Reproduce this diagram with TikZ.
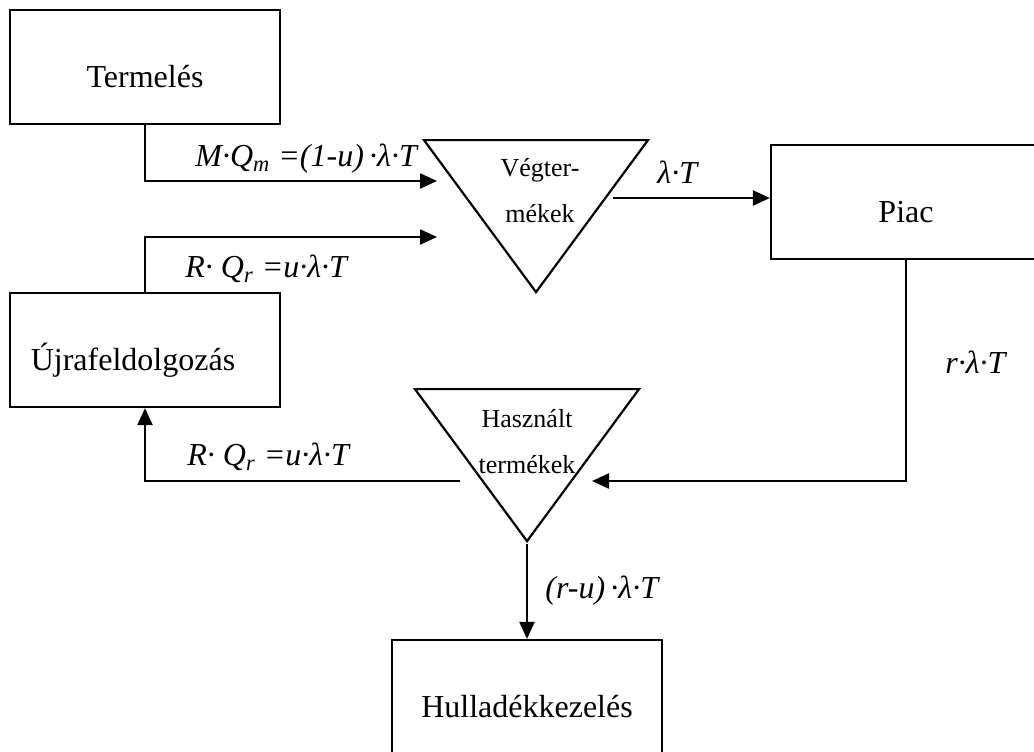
\documentclass[tikz,border=0pt]{standalone}
\usepackage{fontspec}
\setmainfont{Liberation Serif}
\usetikzlibrary{positioning,shapes.geometric,arrows.meta}

\begin{document}
\begin{tikzpicture}[x=0.5pt,y=-0.5pt,
    box/.style={rectangle, draw, line width=1.1pt, minimum width=135pt, minimum height=57pt, text height=20pt, text depth=0pt, inner sep=0pt, font=\fontsize{16}{19}\selectfont},
    funnel/.style={isosceles triangle, shape border rotate=270, isosceles triangle stretches, draw, line width=1.1pt, minimum width=112pt, minimum height=76pt, inner sep=0pt},
    tritext/.style={align=center, font=\fontsize{13}{23}\selectfont, inner sep=0pt, anchor=base},
    flow/.style={line width=1.1pt, -{Triangle[length=8.5pt,width=7.5pt]}},
    rate/.style={font=\fontsize{16}{19}\selectfont\itshape, inner sep=0pt, anchor=base west}
]
    \clip (0,0) rectangle (1034,751);

    % Boxes
    \node [box] (termeles) at (145,67) {Termelés};
    \node [box] (ujra) at (145,350) {Újrafeldolgozás\hspace*{12pt}};
    \node [box] (piac) at (906,202) {Piac};
    \node [box] (hullad) at (527,697) {Hulladékkezelés};

    % Stocks
    \node [funnel, anchor=apex] (vegt) at (536,295) {};
    \node [tritext] (vegtext) at (540,222) {Végter-\\mékek};
    \node [funnel, anchor=apex] (haszn) at (527,544) {};
    \node [tritext] (hasztext) at (527,473) {Használt\\termékek};

    % Free ends
    \coordinate (vin1) at (437,181);
    \coordinate (vin2) at (437,237);
    \coordinate (vout) at (613,198);
    \coordinate (hin) at (592,481);
    \coordinate (hout) at (460,481);

    % Flows
    \draw [flow] (termeles.south) |- (vin1);
    \draw [flow] (ujra.north) |- (vin2);
    \draw [flow] (vout) -- (vout -| piac.west);
    \draw [flow] (piac.south) |- (hin);
    \draw [flow] (hout) -| (ujra.south);
    \draw [flow] (haszn.apex) -- (hullad.north);

    % Rates
    \node [rate] (mq) at (195,166) {M·Q\textsubscript{m} =(1-u)\,·λ·T};
    \node [rate] (rqup) at (185,277) {R· Q\textsubscript{r} =u·λ·T};
    \node [rate] (rqlow) at (187,465) {R· Q\textsubscript{r} =u·λ·T};
    \node [rate] (lt) at (657,183) {λ·T};
    \node [rate] (rlt) at (945,373) {r·λ·T};
    \node [rate] (rult) at (545,598) {(r-u)\,·λ·T};
\end{tikzpicture}
\end{document}
